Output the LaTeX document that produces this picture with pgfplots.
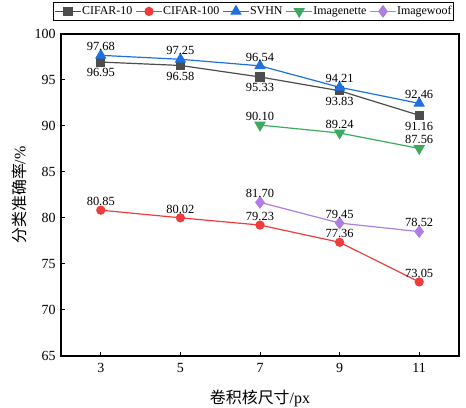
\documentclass[border=0pt]{standalone}
\usepackage{pgfplots}
\pgfplotsset{compat=1.18}
\usepackage{fontspec}
\setmainfont{Liberation Serif}
\newfontfamily\cjk{Noto Sans CJK SC}
\pgfkeys{/pgf/number format/assume math mode=true}
\definecolor{cgray}{HTML}{4D4D4D}
\definecolor{cred}{HTML}{F23B3B}
\definecolor{cblue}{HTML}{1E6FE0}
\definecolor{cgreen}{HTML}{3BAA5F}
\definecolor{cpurple}{HTML}{B07EE0}
\begin{document}
\begin{tikzpicture}
\begin{axis}[
  scale only axis,
  width=398bp, height=322bp,
  xmin=2, xmax=12, ymin=65, ymax=100,
  xtick={3,5,7,9,11},
  ytick={65,70,75,80,85,90,95,100},
  tick align=inside,
  xtick pos=bottom, ytick pos=left,
  major tick length=4bp,
  axis line style={line width=1.1bp},
  tick style={line width=1bp, black},
  ticklabel style={font=\fontsize{14}{16}\selectfont},
  xticklabel style={yshift=-4bp},
  yticklabel style={xshift=-2bp},
  xlabel={{\cjk 卷积核尺寸}/px},
  ylabel={{\cjk 分类准确率}/\%},
  label style={font=\fontsize{16}{18}\selectfont},
  xlabel style={yshift=-10bp},
  ylabel style={yshift=1bp},
  every axis plot/.append style={line width=1.2bp, mark size=4bp},
  nodes near coords={\pgfmathprintnumber[fixed,fixed zerofill,precision=2]{\pgfplotspointmeta}},
  every node near coord/.append style={font=\fontsize{12.5}{14}\selectfont, black, inner sep=1bp},
  legend columns=5,
  legend style={at={(0,1)}, anchor=north west, xshift=-8bp, yshift=32bp,
    font=\fontsize{12}{14}\selectfont, draw=black, line width=0.9bp,
    inner xsep=1bp, inner ysep=2bp,
    nodes={inner xsep=0.5bp},
    /tikz/every odd column/.append style={column sep=0bp},
    /tikz/every even column/.append style={column sep=2.5bp}},
  legend image code/.code={\draw[mark repeat=2,mark phase=2] plot coordinates {(0bp,0bp) (13bp,0bp) (26bp,0bp)};},
]
\addplot[color=cgray, mark=square*, mark options={fill=cgray}, every node near coord/.append style={anchor=north, yshift=-5bp}]
  coordinates {(3,96.95) (5,96.58) (7,95.33) (9,93.83) (11,91.16)};
\addlegendentry{CIFAR-10}
\addplot[color=cred, mark=*, mark options={fill=cred}, every node near coord/.append style={anchor=south, yshift=3bp}]
  coordinates {(3,80.85) (5,80.02) (7,79.23) (9,77.36) (11,73.05)};
\addlegendentry{CIFAR-100}
\addplot[color=cblue, mark=triangle*, mark options={fill=cblue}, mark size=5.5bp, every node near coord/.append style={anchor=south, yshift=3bp}]
  coordinates {(3,97.68) (5,97.25) (7,96.54) (9,94.21) (11,92.46)};
\addlegendentry{SVHN}
\addplot[color=cgreen, mark=triangle*, mark options={fill=cgreen, rotate=180}, mark size=5.5bp, every node near coord/.append style={anchor=south, yshift=3bp}]
  coordinates {(7,90.10) (9,89.24) (11,87.56)};
\addlegendentry{Imagenette}
\addplot[color=cpurple, mark=diamond*, mark options={fill=cpurple}, mark size=5.5bp, every node near coord/.append style={anchor=south, yshift=3bp}]
  coordinates {(7,81.70) (9,79.45) (11,78.52)};
\addlegendentry{Imagewoof}
\end{axis}
\pgfresetboundingbox
\path ([shift={(-61bp,-52bp)}]current axis.south west) rectangle ([shift={(7bp,34bp)}]current axis.north east);
\end{tikzpicture}
\end{document}
